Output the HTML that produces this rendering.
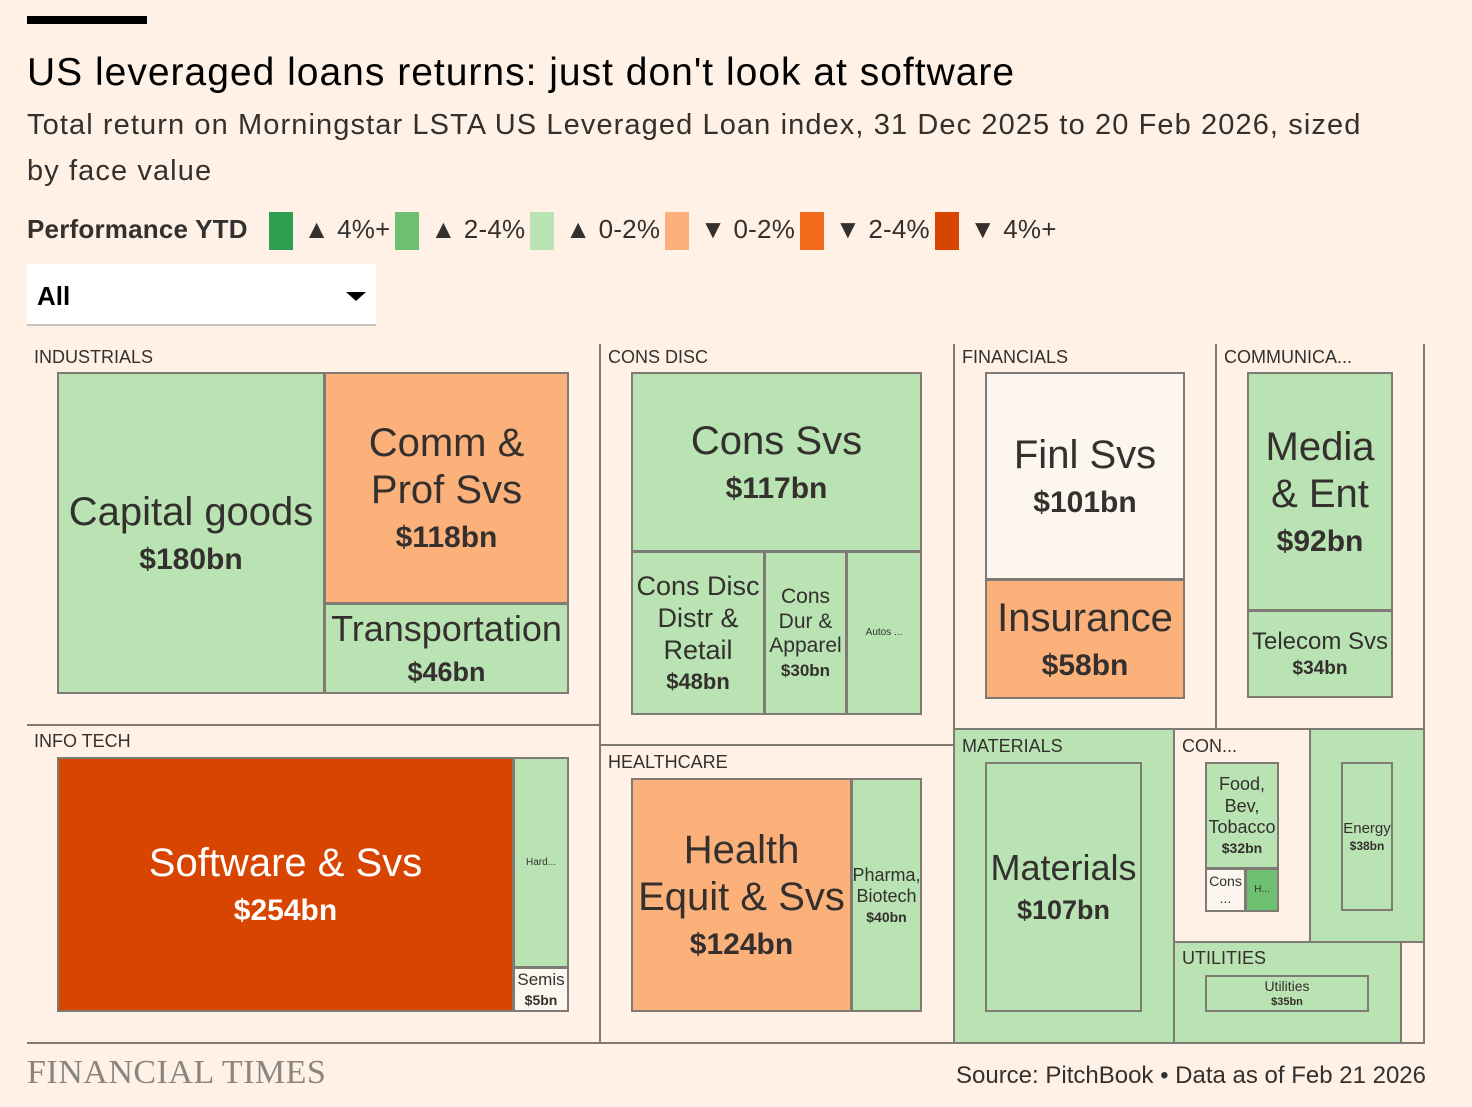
<!DOCTYPE html>
<html><head><meta charset="utf-8">
<style>
*{box-sizing:border-box;margin:0;padding:0}
body{width:1472px;height:1107px;background:#fff1e5;font-family:"Liberation Sans",sans-serif;color:#33302e;position:relative;overflow:hidden}
.a{position:absolute}
.leaf{position:absolute;border:2px solid #7f7a74;display:flex;flex-direction:column;align-items:center;justify-content:center;text-align:center;line-height:1.18;overflow:hidden}
.leaf .v{font-weight:bold}
.grp{position:absolute;font-size:18px;color:#33302e}
.ln{position:absolute;background:#7f7a74}
.sw{display:inline-block;width:24px;height:38px;vertical-align:middle;margin:0 11px 0 5px}
</style></head><body>
<div class="a" style="left:27px;top:16px;width:120px;height:8px;background:#000"></div>
<div class="a" style="left:27px;top:51px;font-size:39px;color:#000;letter-spacing:1px">US leveraged loans returns: just don't look at software</div>
<div class="a" style="left:27px;top:102px;width:1360px;font-size:29px;line-height:46px;color:#33302e;letter-spacing:1.1px">Total return on Morningstar LSTA US Leveraged Loan index, 31 Dec 2025 to 20 Feb 2026, sized by face value</div>
<div class="a" style="left:27px;top:209px;font-size:26px;color:#33302e;white-space:nowrap;line-height:40px;letter-spacing:0.2px">
<b style="margin-right:16px">Performance YTD</b><span class="sw" style="background:#2d9e4f"></span>▲ 4%+<span class="sw" style="background:#6cc070"></span>▲ 2-4%<span class="sw" style="background:#bae3b3"></span>▲ 0-2%<span class="sw" style="background:#fcb17b"></span>▼ 0-2%<span class="sw" style="background:#f26b1d"></span>▼ 2-4%<span class="sw" style="background:#d84500"></span>▼ 4%+</div>
<div class="a" style="left:27px;top:264px;width:349px;height:62px;background:#fff;border-bottom:2px solid #ccc1b7">
<span style="position:absolute;left:10px;top:17px;font-size:26px;font-weight:bold;color:#000">All</span>
<span style="position:absolute;right:10px;top:28px;width:0;height:0;border-left:10px solid transparent;border-right:10px solid transparent;border-top:9px solid #000"></span></div>

<div id="tm"></div>
<div class="a" style="left:27px;top:1054px;font-family:'Liberation Serif',serif;font-size:34px;color:#8a8580;letter-spacing:0.5px">FINANCIAL TIMES</div>
<div class="a" style="right:46px;top:1062px;font-size:24px;color:#33302e">Source: PitchBook • Data as of Feb 21 2026</div>
<script>
const C={g3:'#2d9e4f',g2:'#6cc070',g1:'#bae3b3',o1:'#fcb17b',o2:'#f26b1d',o3:'#d84500',w:'#fdf6ee'};
const names=['Capital goods','Comm & Prof Svs','Transportation','Software & Svs','Hard...','Semis','Cons Svs','Cons Disc Distr & Retail','Cons Dur & Apparel','Autos ...','Health Equit & Svs','Pharma, Biotech','Finl Svs','Insurance','Media & Ent','Telecom Svs','Materials','Food, Bev, Tobacco','Cons ...','H...','Energy','Utilities'];
const values=['$180bn','$118bn','$46bn','$254bn','','$5bn','$117bn','$48bn','$30bn','','$124bn','$40bn','$101bn','$58bn','$92bn','$34bn','$107bn','$32bn','','','$38bn','$35bn'];
const perf=['g1','o1','g1','o3','g1','w','g1','g1','g1','g1','o1','g1','w','o1','g1','g1','g1','g1','w','g2','g1','g1'];
const L=[[57,372,325,694,40,['Capital goods']],[324,372,569,604,40,['Comm &','Prof Svs']],[324,603,569,694,36,['Transportation']],
[57,757,514,1012,40,['Software & Svs']],[513,757,569,968,10,['Hard...']],[513,967,569,1012,17,['Semis']],
[631,372,922,552,40,['Cons Svs']],[631,551,765,715,27,['Cons Disc','Distr &','Retail']],[764,551,847,715,21,['Cons','Dur &','Apparel']],[846,551,922,715,10,['Autos ...']],
[631,778,852,1012,40,['Health','Equit & Svs']],[851,778,922,1012,18,['Pharma,','Biotech']],
[985,372,1185,580,40,['Finl Svs']],[985,579,1185,699,40,['Insurance']],[1247,372,1393,611,40,['Media','& Ent']],[1247,610,1393,698,24,['Telecom Svs']],
[985,762,1142,1012,36,['Materials']],[1205,762,1279,869,18,['Food,','Bev,','Tobacco']],[1205,868,1246,912,14,['Cons','...']],[1245,868,1279,912,10,['H...']],
[1341,762,1393,911,15,['Energy']],[1205,975,1369,1012,14,['Utilities']]];
const tm=document.getElementById('tm');
function add(h){tm.insertAdjacentHTML('beforeend',h);}
const fills=[[953,729,1173,1043,C.g1],[1309,729,1424,942,C.g1],[1173,942,1400,1043,C.g1]];
fills.forEach(f=>add(`<div class="a" style="left:${f[0]}px;top:${f[1]}px;width:${f[2]-f[0]}px;height:${f[3]-f[1]}px;background:${f[4]}"></div>`));
const lines=[[599,344,2,699],[953,344,2,699],[1215,344,2,386],[1423,344,2,699],[27,1042,1398,2],[27,724,573,2],[599,744,355,2],[953,728,471,2],[1173,729,2,314],[1309,729,2,214],[1173,941,251,2],[1400,942,2,101]];
lines.forEach(l=>add(`<div class="ln" style="left:${l[0]}px;top:${l[1]}px;width:${l[2]}px;height:${l[3]}px"></div>`));
const groups=[['INDUSTRIALS',34,347],['INFO TECH',34,731],['CONS DISC',608,347],['HEALTHCARE',608,752],['FINANCIALS',962,347],['COMMUNICA...',1224,347],['MATERIALS',962,736],['CON...',1182,736],['UTILITIES',1182,948]];
groups.forEach(g=>add(`<div class="grp" style="left:${g[1]}px;top:${g[2]}px">${g[0]}</div>`));
names.forEach((n,i)=>{
 const b=L[i];const fs=b[4];const col=perf[i]==='o3'?'#fff':'#33302e';
 const vfs=fs>=36?Math.round(fs*0.75):Math.round(fs*0.8);
 const lab=b[5].map(s=>`<div>${s}</div>`).join('');
 add(`<div class="leaf" id="leaf${i}" style="left:${b[0]}px;top:${b[1]}px;width:${b[2]-b[0]}px;height:${b[3]-b[1]}px;background:${C[perf[i]]};color:${col};font-size:${fs}px" title="${n}">${lab}${values[i]?`<div class="v" style="font-size:${vfs}px;margin-top:${fs>=30?6:2}px">${values[i]}</div>`:''}</div>`);
 const el=document.getElementById('leaf'+i);
 
 
});
</script>
</body></html>
